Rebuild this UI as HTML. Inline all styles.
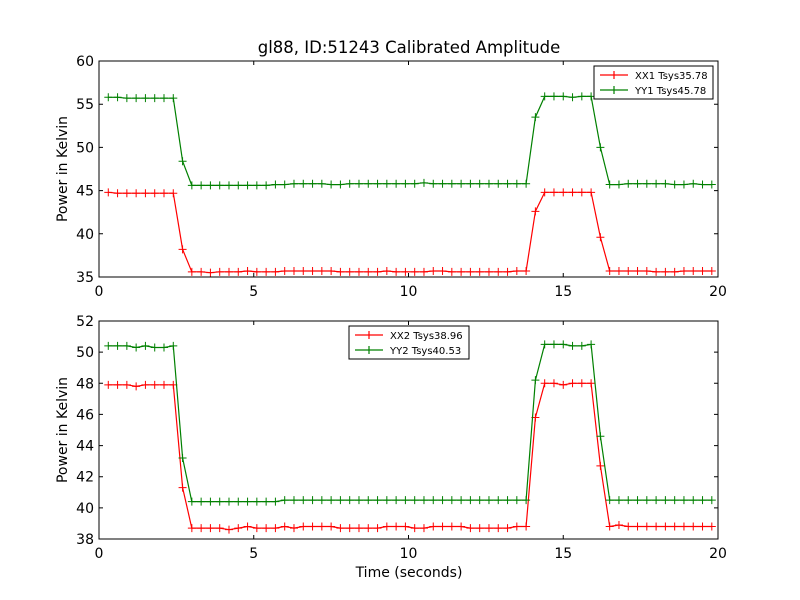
<!DOCTYPE html>
<html><head><meta charset="utf-8"><style>
body{margin:0;background:#fff;}
svg{display:block;font-family:"DejaVu Sans","Liberation Sans",sans-serif;}
</style></head><body>
<svg id="chart" width="800" height="600" viewBox="0 0 800 600">
<rect x="0" y="0" width="800" height="600" fill="#fff"/>
<text x="409" y="53" font-size="16.5" text-anchor="middle">gl88, ID:51243 Calibrated Amplitude</text>
<text x="409" y="577" font-size="14" text-anchor="middle">Time (seconds)</text>
<g id="plots"></g>
</svg>
<script>
const times=[0.3,0.6,0.9,1.2,1.5,1.8,2.1,2.4,2.7,3.0,3.3,3.6,3.9,4.2,4.5,4.8,5.1,5.4,5.7,6.0,6.3,6.6,6.9,7.2,7.5,7.8,8.1,8.4,8.7,9.0,9.3,9.6,9.9,10.2,10.5,10.8,11.1,11.4,11.7,12.0,12.3,12.6,12.9,13.2,13.5,13.8,14.1,14.4,14.7,15.0,15.3,15.6,15.9,16.2,16.5,16.8,17.1,17.4,17.7,18.0,18.3,18.6,18.9,19.2,19.5,19.8];
const xx1=[44.8,44.7,44.7,44.7,44.7,44.7,44.7,44.7,38.2,35.6,35.6,35.5,35.6,35.6,35.6,35.7,35.6,35.6,35.6,35.7,35.7,35.7,35.7,35.7,35.7,35.6,35.6,35.6,35.6,35.6,35.7,35.6,35.6,35.6,35.6,35.7,35.7,35.6,35.6,35.6,35.6,35.6,35.6,35.6,35.7,35.7,42.6,44.8,44.8,44.8,44.8,44.8,44.8,39.6,35.7,35.7,35.7,35.7,35.7,35.6,35.6,35.6,35.7,35.7,35.7,35.7];
const yy1=[55.8,55.8,55.7,55.7,55.7,55.7,55.7,55.7,48.4,45.6,45.6,45.6,45.6,45.6,45.6,45.6,45.6,45.6,45.7,45.7,45.8,45.8,45.8,45.8,45.7,45.7,45.8,45.8,45.8,45.8,45.8,45.8,45.8,45.8,45.9,45.8,45.8,45.8,45.8,45.8,45.8,45.8,45.8,45.8,45.8,45.8,53.5,55.9,55.9,55.9,55.8,55.9,55.9,50.0,45.7,45.7,45.8,45.8,45.8,45.8,45.8,45.7,45.7,45.8,45.7,45.7];
const xx2=[47.9,47.9,47.9,47.8,47.9,47.9,47.9,47.9,41.3,38.7,38.7,38.7,38.7,38.6,38.7,38.8,38.7,38.7,38.7,38.8,38.7,38.8,38.8,38.8,38.8,38.7,38.7,38.7,38.7,38.7,38.8,38.8,38.8,38.7,38.7,38.8,38.8,38.8,38.8,38.7,38.7,38.7,38.7,38.7,38.8,38.8,45.8,48.0,48.0,47.9,48.0,48.0,48.0,42.7,38.8,38.9,38.8,38.8,38.8,38.8,38.8,38.8,38.8,38.8,38.8,38.8];
const yy2=[50.4,50.4,50.4,50.3,50.4,50.3,50.3,50.4,43.2,40.4,40.4,40.4,40.4,40.4,40.4,40.4,40.4,40.4,40.4,40.5,40.5,40.5,40.5,40.5,40.5,40.5,40.5,40.5,40.5,40.5,40.5,40.5,40.5,40.5,40.5,40.5,40.5,40.5,40.5,40.5,40.5,40.5,40.5,40.5,40.5,40.5,48.2,50.5,50.5,50.5,50.4,50.4,50.5,44.6,40.5,40.5,40.5,40.5,40.5,40.5,40.5,40.5,40.5,40.5,40.5,40.5];
const xTicks=[0,5,10,15,20];
const yTicksTop=[35,40,45,50,55,60];
const yTicksBot=[38,40,42,44,46,48,50,52];
const NS="http://www.w3.org/2000/svg";
const root=document.getElementById('plots');
function mk(tag,attrs,parent){const e=document.createElementNS(NS,tag);for(const k in attrs)e.setAttribute(k,attrs[k]);(parent||root).appendChild(e);return e;}
function panel(name,top,bottom,ymin,ymax,yTicks,series,legend){
  const L=99,R=718;
  const g=mk('g',{});
  
  
  const sx=v=>L+(v-0)/(20-0)*(R-L);
  const sy=v=>bottom-(v-ymin)/(ymax-ymin)*(bottom-top);
  series.forEach(s=>{
    const sg=mk('g',{},g);
    
    
    const pts=times.map((t,i)=>sx(t).toFixed(1)+','+sy(s.vals[i]).toFixed(1)).join(' ');
    const pl=mk('polyline',{points:pts,fill:'none',stroke:s.color,'stroke-width':1.2},sg);
    
    
    times.forEach((t,i)=>{
      const x=sx(t),y=sy(s.vals[i]);
      const m=mk('path',{d:`M${x-4},${y}H${x+4}M${x},${y-4}V${y+4}`,stroke:s.color,'stroke-width':1},sg);
      
      
    });
  });
  const fr=mk('rect',{x:L,y:top,width:R-L,height:bottom-top,fill:'none',stroke:'#000','stroke-width':1},g);
  
  
  xTicks.forEach(v=>{
    const x=sx(v);
    mk('path',{d:`M${x},${bottom}v-4M${x},${top}v4`,stroke:'#000'},g);
    const t=mk('text',{x:x,y:bottom+19,'font-size':14,'text-anchor':'middle'},g);
    
    
    t.textContent=v;
  });
  yTicks.forEach(v=>{
    const y=sy(v);
    mk('path',{d:`M${L},${y}h4M${R},${y}h-4`,stroke:'#000'},g);
    const t=mk('text',{x:L-5,y:y+5,'font-size':14,'text-anchor':'end'},g);
    
    
    t.textContent=v;
  });
  const yt=mk('text',{x:0,y:0,'font-size':14,'text-anchor':'middle',transform:`translate(67,${(top+bottom)/2}) rotate(-90)`},g);
  
  
  yt.textContent='Power in Kelvin';
  const lg=mk('g',{},g);
  
  
  const lb=mk('rect',{x:legend.x,y:legend.y,width:legend.w,height:33,fill:'#fff',stroke:'#000'},lg);
  
  
  series.forEach((s,i)=>{
    const y=legend.y+9+i*15;
    const x0=legend.x+6;
    const e=mk('g',{},lg);
    
    
    mk('path',{d:`M${x0},${y}h28M${x0+14-4},${y}h8M${x0+14},${y-4}v8`,stroke:s.color,'stroke-width':1.2},e);
    const t=mk('text',{x:x0+35,y:y+4,'font-size':10},e);
    t.textContent=s.label;
  });
}
panel('top-panel',61,277,35,60,yTicksTop,[
  {name:'xx1-series',label:'XX1 Tsys35.78',color:'#ff0000',vals:xx1},
  {name:'yy1-series',label:'YY1 Tsys45.78',color:'#008000',vals:yy1}],{x:594,y:66,w:119});
panel('bottom-panel',321,539,38,52,yTicksBot,[
  {name:'xx2-series',label:'XX2 Tsys38.96',color:'#ff0000',vals:xx2},
  {name:'yy2-series',label:'YY2 Tsys40.53',color:'#008000',vals:yy2}],{x:349,y:326,w:120});
</script>
</body></html>
